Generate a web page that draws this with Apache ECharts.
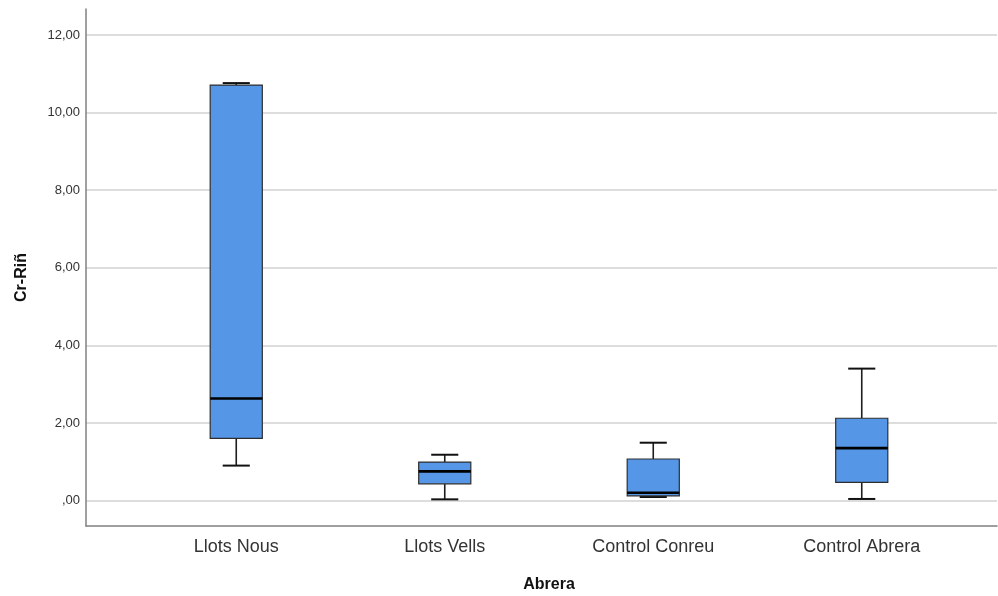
<!DOCTYPE html>
<html>
<head>
<meta charset="utf-8">
<script src="https://cdn.jsdelivr.net/npm/echarts@6/dist/echarts.min.js"></script>
<style>
  html, body { margin: 0; padding: 0; background: #fff; }
  #chart { width: 998px; height: 596px; }
</style>
</head>
<body>
<div id="chart"></div>
<script>
// Box-plot summary per site: whisker low, Q1, median, Q3, whisker high
const categories = ['Llots Nous', 'Llots Vells', 'Control Conreu', 'Control Abrera'];
const whiskerLow  = [0.90, 0.03, 0.09, 0.04];
const quartile1   = [1.60, 0.43, 0.12, 0.47];
const medians     = [2.63, 0.75, 0.20, 1.35];
const quartile3   = [10.71, 0.99, 1.07, 2.12];
const whiskerHigh = [10.76, 1.18, 1.49, 3.40];
const yTicks = [0, 2, 4, 6, 8, 10, 12];

const yMin = -0.657, yMax = 12.67;
const font = '"Liberation Sans", Arial, sans-serif';

const boxData = categories.map((c, i) => [i, whiskerLow[i], quartile1[i], medians[i], quartile3[i], whiskerHigh[i]]);

function fmt(v) {
  const s = v.toFixed(2).replace('.', ',');
  return v === 0 ? ',00' : s;
}

function renderBox(params, api) {
  const idx = api.value(0);
  const band = api.size([1, 0])[0];
  const half = band * 0.125;
  const capHalf = half * 0.52;
  const pLow = api.coord([idx, api.value(1)]);
  const pQ1 = api.coord([idx, api.value(2)]);
  const pMed = api.coord([idx, api.value(3)]);
  const pQ3 = api.coord([idx, api.value(4)]);
  const pHigh = api.coord([idx, api.value(5)]);
  const cx = pMed[0];
  const lineStyle = { stroke: '#1e1e1e', lineWidth: 1.6 };
  return {
    type: 'group',
    children: [
      { type: 'line', shape: { x1: cx, y1: pQ3[1], x2: cx, y2: pHigh[1] }, style: lineStyle },
      { type: 'line', shape: { x1: cx, y1: pQ1[1], x2: cx, y2: pLow[1] }, style: lineStyle },
      { type: 'line', shape: { x1: cx - capHalf, y1: pHigh[1], x2: cx + capHalf, y2: pHigh[1] }, style: { stroke: '#111', lineWidth: 2 } },
      { type: 'line', shape: { x1: cx - capHalf, y1: pLow[1], x2: cx + capHalf, y2: pLow[1] }, style: { stroke: '#111', lineWidth: 2 } },
      { type: 'rect', shape: { x: cx - half, y: pQ3[1], width: half * 2, height: pQ1[1] - pQ3[1] },
        style: { fill: '#5596e6', stroke: '#2e2e2e', lineWidth: 1.2 } },
      { type: 'line', shape: { x1: cx - half, y1: pMed[1], x2: cx + half, y2: pMed[1] }, style: { stroke: '#000', lineWidth: 2.6 } }
    ]
  };
}

const chart = echarts.init(document.getElementById('chart'), null, { renderer: 'canvas' });
chart.setOption({
  backgroundColor: '#ffffff',
  animation: false,
  grid: [
    { left: 86, right: 1, top: 9, bottom: 70, outerBoundsMode: 'none', containLabel: false },
    { left: 132, width: 834, top: 9, bottom: 70, outerBoundsMode: 'none', containLabel: false }
  ],
  xAxis: [
    {
      gridIndex: 0, type: 'value', min: 0, max: 1,
      axisLine: { show: true, onZero: false, lineStyle: { color: '#808080', width: 1.5 } },
      axisTick: { show: false }, axisLabel: { show: false }, splitLine: { show: false }
    },
    {
      gridIndex: 1, type: 'category', data: categories, boundaryGap: true,
      axisLine: { show: false, onZero: false }, axisTick: { show: false }, splitLine: { show: false },
      axisLabel: { fontFamily: font, fontSize: 18, color: '#333', margin: 12 },
      name: 'Abrera', nameLocation: 'middle', nameGap: 51,
      nameTextStyle: { fontFamily: font, fontSize: 16, fontWeight: 'bold', color: '#111' }
    }
  ],
  yAxis: [
    {
      gridIndex: 0, type: 'value', min: yMin, max: yMax, minInterval: 2, maxInterval: 2,
      axisLine: { show: true, onZero: false, lineStyle: { color: '#808080', width: 1.5 } },
      axisTick: { show: false },
      axisLabel: {
        fontFamily: font, fontSize: 13, color: '#333', margin: 6,
        showMinLabel: false, showMaxLabel: false,
        formatter: v => (yTicks.indexOf(Math.round(v * 1000) / 1000) >= 0 ? fmt(v) : '')
      },
      splitLine: { show: true, showMinLine: false, showMaxLine: false, lineStyle: { color: '#d2d2d2', width: 1.5 } },
      name: 'Cr-Riñ', nameLocation: 'middle', nameGap: 56, nameRotate: 90,
      nameTextStyle: { fontFamily: font, fontSize: 16, fontWeight: 'bold', color: '#111', padding: [0, 20, 0, 0] }
    },
    {
      gridIndex: 1, type: 'value', min: yMin, max: yMax, show: false
    }
  ],
  series: [
    {
      type: 'custom', xAxisIndex: 1, yAxisIndex: 1,
      data: boxData, renderItem: renderBox, z: 5
    }
  ]
});
</script>
</body>
</html>
